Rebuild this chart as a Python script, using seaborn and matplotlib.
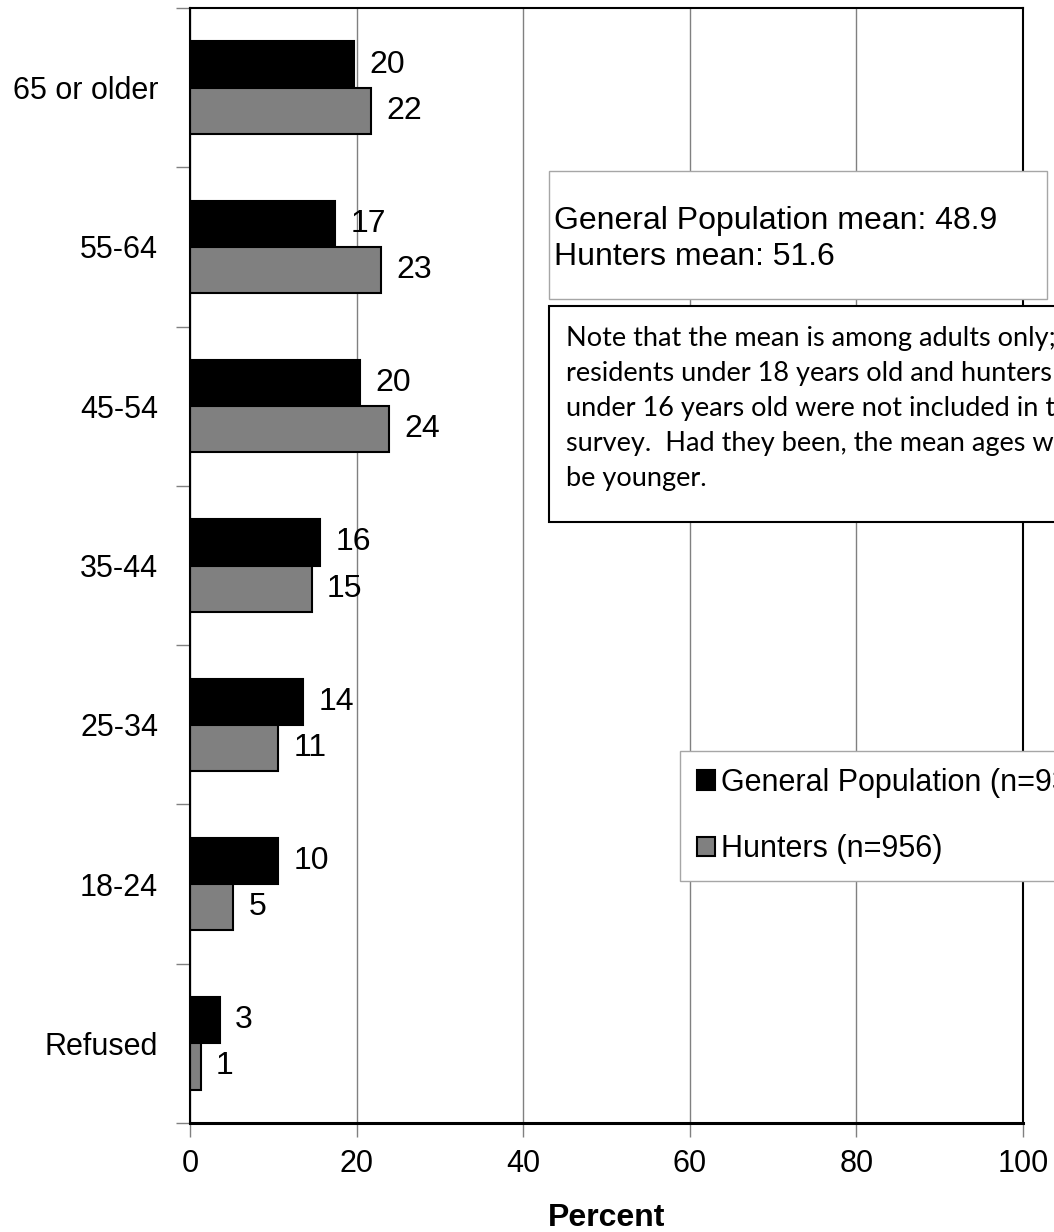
import numpy as np
import pandas as pd
import seaborn as sns
import matplotlib.pyplot as plt
from matplotlib.patches import Rectangle
from matplotlib.ticker import FixedLocator

# data
ages = ["65 or older", "55-64", "45-54", "35-44", "25-34", "18-24", "Refused"]
general_pop = [19.7, 17.4, 20.4, 15.6, 13.6, 10.6, 3.6]
hunters = [21.7, 22.9, 23.9, 14.6, 10.6, 5.2, 1.3]
general_labels = ["20", "17", "20", "16", "14", "10", "3"]
hunter_labels = ["22", "23", "24", "15", "11", "5", "1"]
groups = ["General Population (n=935)", "Hunters (n=956)"]

df = pd.DataFrame({
    "Age": ages * 2,
    "Group": [groups[0]] * len(ages) + [groups[1]] * len(ages),
    "Percent": general_pop + hunters,
})

sns.set_theme(style="white")
plt.rcParams["font.family"] = ["Liberation Sans", "DejaVu Sans"]
plt.rcParams.update({"text.color": "black", "axes.labelcolor": "black",
                     "xtick.color": "black", "ytick.color": "black"})

W, H = 1054, 1232
fig = plt.figure(figsize=(W / 100, H / 100), dpi=100)
ax = fig.add_axes([190 / W, 1 - 1123 / H, (1023 - 190) / W, (1123 - 8) / H])

sns.barplot(data=df, y="Age", x="Percent", hue="Group", order=ages,
            hue_order=groups, palette=["black", "#808080"], edgecolor="black",
            linewidth=1.5, width=0.58, orient="h", ax=ax)

handles, labels = ax.get_legend_handles_labels()
ax.get_legend().remove()

for cont, labs in zip(ax.containers, [general_labels, hunter_labels]):
    ax.bar_label(cont, labels=labs, padding=11, fontsize=23)

# axes styling
ax.set_xlim(0, 100)
ax.set_xticks(range(0, 101, 20))
ax.xaxis.grid(True, color="#808080", lw=1)
ax.set_axisbelow(True)
ax.set_ylim(6.5, -0.5)
ax.yaxis.set_minor_locator(FixedLocator(np.arange(-0.5, 7, 1)))
ax.tick_params(axis="y", which="major", length=0, pad=23, labelsize=22)
ax.tick_params(axis="y", which="minor", length=10, color="#808080",
               width=1, left=True)
ax.tick_params(axis="x", length=10, color="#808080", width=1, bottom=True,
               pad=9, labelsize=22)
ax.set_ylabel("")
ax.set_xlabel("Percent", fontsize=23, fontweight="bold", labelpad=17)
for side, s in ax.spines.items():
    s.set_color("black")
    s.set_linewidth(2.2 if side == "bottom" else 1.5)

# mean box
fig.add_artist(Rectangle((549 / W, 1 - 299 / H), 498 / W, 128 / H,
                         transform=fig.transFigure, facecolor="white",
                         edgecolor="#a6a6a6", lw=1))
fig.text(554 / W, 1 - 206 / H, "General Population mean: 48.9\nHunters mean: 51.6",
         fontsize=23, va="top", linespacing=1.27)

# note box
fig.add_artist(Rectangle((549 / W, 1 - 522 / H), 600 / W, 216 / H,
                         transform=fig.transFigure, facecolor="white",
                         edgecolor="black", lw=1.5))
note = ("Note that the mean is among adults only;\n"
        "residents under 18 years old and hunters\n"
        "under 16 years old were not included in the\n"
        "survey.  Had they been, the mean ages would\n"
        "be younger.")
fig.text(566 / W, 1 - 326 / H, note, fontsize=19.5, family=["Lato", "DejaVu Sans"],
         va="top", linespacing=1.5)

leg = fig.legend(handles, labels, loc="upper left",
                 bbox_to_anchor=(680 / W, 1 - 751 / H),
                 bbox_transform=fig.transFigure, borderaxespad=0,
                 frameon=True, fancybox=False, edgecolor="#a6a6a6",
                 framealpha=1, fontsize=22, handlelength=0.6,
                 handleheight=0.6, handletextpad=0.2, labelspacing=1.2,
                 borderpad=0.55)
leg.get_frame().set_linewidth(1)

fig.savefig("out.png", dpi=100)
